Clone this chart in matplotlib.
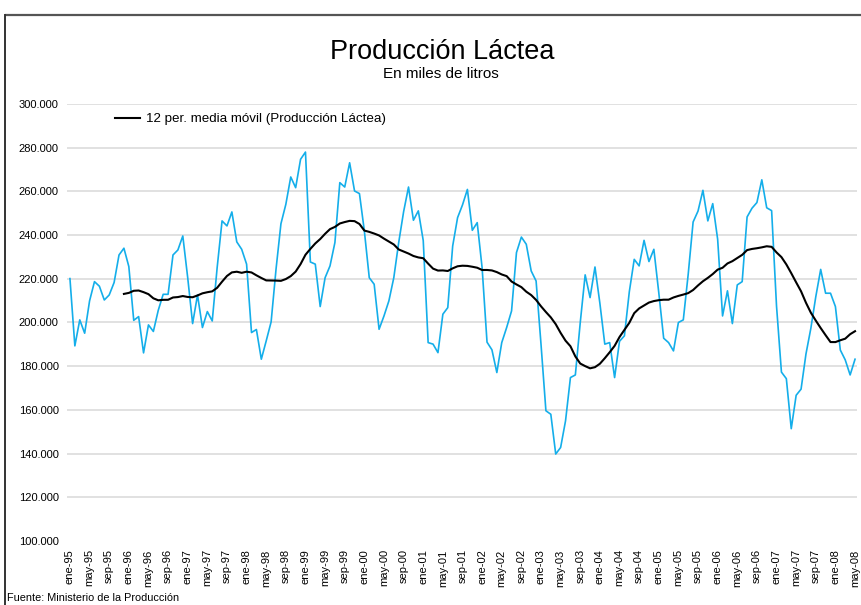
import matplotlib
matplotlib.use('Agg')
import matplotlib.pyplot as plt
from matplotlib.lines import Line2D
from matplotlib.ticker import FuncFormatter
import pandas as pd

plt.rcParams['font.family'] = ['Liberation Sans', 'DejaVu Sans']

# Producción láctea mensual, ene-95 a may-08 (miles de miles de litros)
produccion = [
    220.1, 189.3, 201.2, 195.1, 209.9, 218.7, 216.6, 210.3, 212.6, 218.3, 230.9, 234.0,  # 1995
    225.6, 201.0, 202.7, 186.1, 198.9, 195.9, 205.6, 212.9, 212.9, 230.9, 233.2, 239.6,  # 1996
    220.5, 199.5, 212.6, 197.7, 205.0, 200.7, 225.1, 246.5, 244.2, 250.6, 236.9, 233.5,  # 1997
    226.7, 195.4, 196.8, 183.2, 191.6, 200.3, 224.4, 245.2, 254.1, 266.6, 261.7, 274.7,  # 1998
    278.0, 227.7, 226.7, 207.3, 220.5, 225.9, 236.6, 264.0, 262.0, 273.1, 260.2, 259.0,  # 1999
    241.9, 220.5, 217.5, 196.9, 203.0, 209.9, 220.5, 236.6, 250.7, 262.0, 246.8, 251.1,  # 2000
    237.5, 190.8, 190.1, 186.2, 203.8, 206.8, 235.0, 248.0, 253.8, 260.9, 242.2, 245.7,  # 2001
    225.0, 191.0, 187.5, 177.1, 190.8, 197.7, 205.3, 232.0, 239.1, 235.8, 223.6, 219.0,  # 2002
    190.1, 159.6, 158.0, 139.8, 142.8, 155.0, 174.8, 176.0, 200.0, 221.8, 211.4, 225.4,  # 2003
    208.8, 190.1, 190.8, 174.8, 191.4, 193.9, 214.1, 228.9, 225.9, 237.6, 227.9, 233.5,  # 2004
    213.7, 192.8, 190.8, 187.0, 200.0, 201.2, 222.1, 246.0, 251.0, 260.5, 246.5, 254.4,  # 2005
    238.1, 203.0, 214.5, 199.5, 217.2, 218.7, 248.3, 252.3, 254.9, 265.3, 252.5, 251.2,  # 2006
    207.5, 177.3, 174.3, 151.4, 166.7, 169.5, 185.6, 197.4, 211.8, 224.3, 213.4, 213.4,  # 2007
    207.3, 187.4, 182.9, 176.0, 183.2,                                                   # 2008
]
meses = ['ene', 'feb', 'mar', 'abr', 'may', 'jun', 'jul', 'ago', 'sep', 'oct', 'nov', 'dic']
anio_inicio = 1995

etiquetas = [f"{meses[i % 12]}-{(anio_inicio + i // 12) % 100:02d}" for i in range(len(produccion))]
serie = pd.Series(produccion) * 1000
media_movil = serie.rolling(12).mean()  # 12 per. media móvil

fig = plt.figure(figsize=(8.62, 6.05), dpi=100)
ax = fig.add_axes([67 / 862, 1 - 541 / 605, 790 / 862, 437 / 605])

x = range(len(produccion))
ax.plot(x, serie, color='#14aeea', lw=1.2, zorder=3)
ax.plot(x, media_movil, color='black', lw=1.5, zorder=4,
        label='12 per. media móvil (Producción Láctea)')

ax.set_ylim(100000, 300000)
ax.set_xlim(-0.6, len(produccion) - 0.6)
ax.set_yticks(range(100000, 300001, 20000))
ax.yaxis.set_major_formatter(FuncFormatter(lambda v, p: f"{v:,.0f}".replace(',', '.')))
ax.set_xticks(list(x)[::4])
ax.set_xticklabels(etiquetas[::4], rotation=90)
ax.tick_params(axis='both', length=0, labelsize=8)
ax.tick_params(axis='y', pad=6)
ax.tick_params(axis='x', pad=6)
for s in ax.spines.values():
    s.set_visible(False)

# grilla (sin línea en 100.000)
for v in range(120000, 300001, 20000):
    ax.axhline(v, color='#d9d9d9', lw=1.1, zorder=1)

ax.legend(loc='center left', bbox_to_anchor=(115 / 862, 1 - 119 / 605),
          bbox_transform=fig.transFigure, frameon=False, fontsize=9.6,
          handlelength=1.9, handletextpad=0.4, borderpad=0, borderaxespad=0)

fig.text(0.513, 1 - 59 / 605, 'Producción Láctea', ha='center', va='baseline', fontsize=19.5)
fig.text(0.512, 1 - 78 / 605, 'En miles de litros', ha='center', va='baseline', fontsize=11)
fig.text(7 / 862, 1 - 601 / 605, 'Fuente: Ministerio de la Producción', ha='left',
         va='baseline', fontsize=7.8)

# marco del gráfico
fig.add_artist(Line2D([6 / 862, 1], [1 - 15 / 605, 1 - 15 / 605], transform=fig.transFigure,
                      color='#555555', lw=1.6))
fig.add_artist(Line2D([5 / 862, 5 / 862], [0, 1 - 15 / 605], transform=fig.transFigure,
                      color='#333333', lw=1.4))

fig.savefig('out.png', dpi=100)
